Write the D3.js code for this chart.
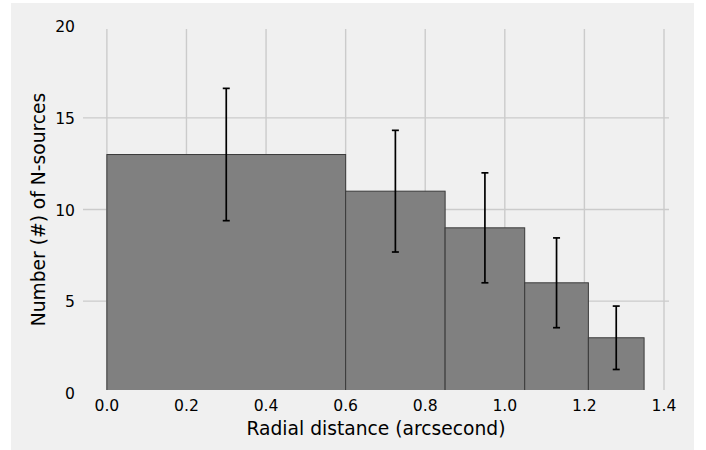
<!DOCTYPE html>
<html>
<head>
<meta charset="utf-8">
<script src="https://cdn.jsdelivr.net/npm/d3@7"></script>
<style>
  html, body { margin: 0; padding: 0; background: #ffffff; }
  svg { display: block; }
  text { font-family: "DejaVu Sans", sans-serif; fill: #000; }
</style>
</head>
<body>
<svg id="chart" width="706" height="450"></svg>
<script>
// Data
const binEdges = [0.0, 0.6, 0.85, 1.05, 1.21, 1.35];
const counts = [13, 11, 9, 6, 3];
const errors = [3.61, 3.32, 3.0, 2.45, 1.73];
const xTicks = [0.0, 0.2, 0.4, 0.6, 0.8, 1.0, 1.2, 1.4];
const yTicks = [0, 5, 10, 15, 20];
const xLabel = "Radial distance (arcsecond)";
const yLabel = "Number (#) of N-sources";

const svg = d3.select("#chart");

// figure background
svg.append("rect").attr("x", 11).attr("y", 3).attr("width", 683).attr("height", 447).attr("fill", "#f0f0f0");

const plot = { left: 83, right: 669, top: 29, bottom: 390 };
const x = d3.scaleLinear().domain([-0.06, 1.4126]).range([plot.left, plot.right]);
const y = d3.scaleLinear().domain([0.15, 19.85]).range([plot.bottom, plot.top]);

svg.append("defs").append("clipPath").attr("id", "clip")
  .append("rect").attr("x", plot.left).attr("y", plot.top)
  .attr("width", plot.right - plot.left).attr("height", plot.bottom - plot.top);

const g = svg.append("g").attr("clip-path", "url(#clip)");

// grid
g.selectAll(".vgrid").data(xTicks).enter().append("line")
  .attr("x1", d => x(d)).attr("x2", d => x(d))
  .attr("y1", plot.top).attr("y2", plot.bottom)
  .attr("stroke", "#cbcbcb").attr("stroke-width", 1.4);
g.selectAll(".hgrid").data(yTicks).enter().append("line")
  .attr("x1", plot.left).attr("x2", plot.right)
  .attr("y1", d => y(d)).attr("y2", d => y(d))
  .attr("stroke", "#cbcbcb").attr("stroke-width", 1.4);

// bars
const bins = counts.map((c, i) => ({ x0: binEdges[i], x1: binEdges[i + 1], c: c, e: errors[i] }));
g.selectAll(".bar").data(bins).enter().append("rect")
  .attr("x", d => x(d.x0)).attr("width", d => x(d.x1) - x(d.x0))
  .attr("y", d => y(d.c)).attr("height", d => y(0) - y(d.c))
  .attr("fill", "#808080").attr("stroke", "#3a3a3a").attr("stroke-width", 1);

// error bars
const eb = g.selectAll(".eb").data(bins).enter().append("g");
eb.append("line")
  .attr("x1", d => x((d.x0 + d.x1) / 2)).attr("x2", d => x((d.x0 + d.x1) / 2))
  .attr("y1", d => y(d.c - d.e)).attr("y2", d => y(d.c + d.e))
  .attr("stroke", "#000").attr("stroke-width", 1.7);
[-1, 1].forEach(s => {
  eb.append("line")
    .attr("x1", d => x((d.x0 + d.x1) / 2) - 3.5).attr("x2", d => x((d.x0 + d.x1) / 2) + 3.5)
    .attr("y1", d => y(d.c + s * d.e)).attr("y2", d => y(d.c + s * d.e))
    .attr("stroke", "#000").attr("stroke-width", 1.7);
});

// tick labels
svg.selectAll(".xt").data(xTicks).enter().append("text")
  .attr("x", d => x(d)).attr("y", 410.7)
  .attr("text-anchor", "middle").attr("font-size", "15.6px")
  .text(d => d3.format(".1f")(d));
svg.selectAll(".yt").data(yTicks).enter().append("text")
  .attr("x", 75).attr("y", d => y(d) + 1)
  .attr("text-anchor", "end").attr("dominant-baseline", "central").attr("font-size", "15.6px")
  .text(d => d);

// axis labels
svg.append("text").attr("x", (plot.left + plot.right) / 2).attr("y", 435)
  .attr("text-anchor", "middle").attr("font-size", "18.7px").text(xLabel);
svg.append("text").attr("transform", `translate(45,${(plot.top + plot.bottom) / 2}) rotate(-90)`)
  .attr("text-anchor", "middle").attr("font-size", "18.7px").text(yLabel);
</script>
</body>
</html>
